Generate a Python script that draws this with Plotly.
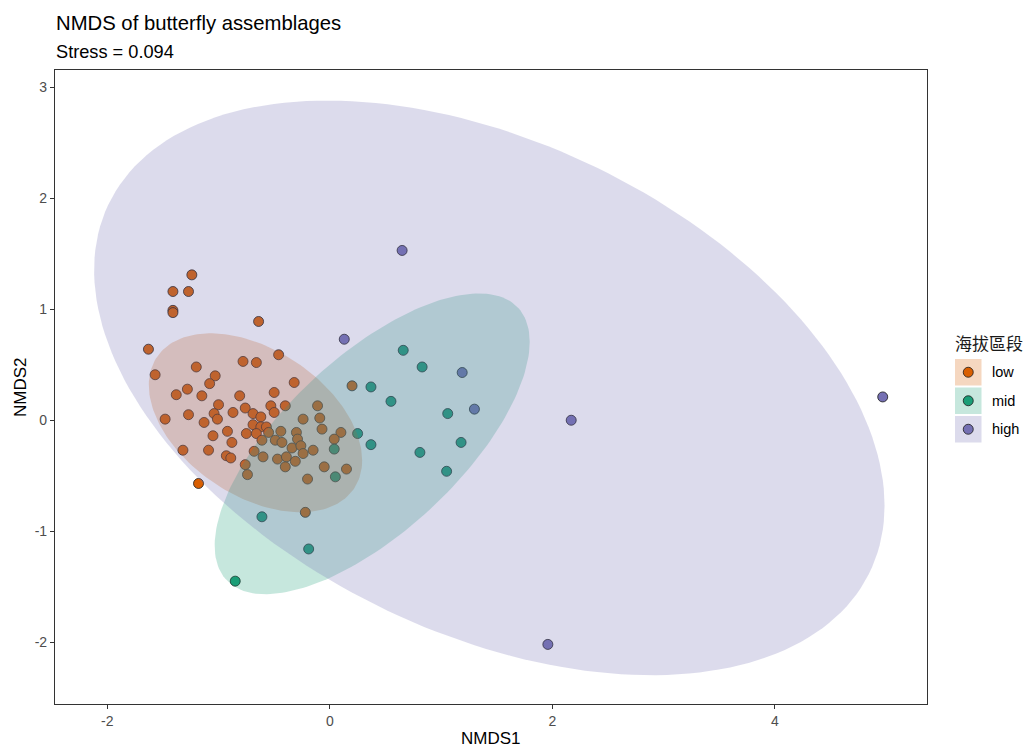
import numpy as np
import plotly.graph_objects as go

# NMDS site scores by elevation band
low_x = [-1.24, -1.41, -1.27, -1.41, -1.41, -0.64, -1.63, -0.46, -1.57, -1.20,
         -0.78, -0.66, -1.03, -1.08, -0.32, -1.28, -1.38, -1.15, -0.81, -0.50,
         0.20, -1.48, -1.27, -1.13, -1.00, -1.04, -1.01, -0.87, -0.76, -0.69,
         -0.62, -0.53, -0.40, -0.50, -0.69, -0.62, -0.57, -1.05, -0.92, -0.75,
         -0.66, -0.88, -1.32, -1.09, -0.93, -0.89, -0.76, -0.74, -1.18, -0.11,
         -0.24, -0.09, -0.07, -0.44, -0.30, -0.29, -0.55, -0.61, -0.49, -0.43,
         -0.34, -0.26, -0.24, -0.15, -0.68, -0.60, -0.47, -0.39, -0.40, -0.31,
         -0.05, 0.10, 0.04, 0.15, -0.20, -0.22]
low_y = [1.31, 1.16, 1.16, 0.99, 0.97, 0.89, 0.64, 0.59, 0.41, 0.48,
         0.53, 0.52, 0.40, 0.33, 0.34, 0.28, 0.23, 0.22, 0.22, 0.25,
         0.31, 0.01, 0.05, -0.02, 0.14, 0.06, 0.01, 0.07, 0.11, 0.06,
         0.03, 0.13, 0.13, 0.07, -0.04, -0.06, -0.06, -0.14, -0.10, -0.12,
         -0.12, -0.20, -0.27, -0.27, -0.32, -0.34, -0.40, -0.49, -0.57, 0.13,
         0.01, 0.02, -0.08, -0.10, -0.11, -0.17, -0.11, -0.18, -0.18, -0.20,
         -0.25, -0.23, -0.30, -0.27, -0.28, -0.33, -0.35, -0.33, -0.42, -0.37,
         -0.42, -0.11, -0.17, -0.44, -0.53, -0.83]

mid_x = [0.66, 0.83, 0.37, 0.55, 1.06, 1.18, 0.37, 0.81, 1.05, 0.25,
         0.04, 0.05, -0.61, -0.19, -0.85]
mid_y = [0.63, 0.48, 0.30, 0.17, 0.06, -0.20, -0.22, -0.29, -0.46, -0.12,
         -0.26, -0.51, -0.87, -1.16, -1.45]

high_x = [0.65, 0.13, 1.19, 1.30, 2.17, 4.97, 1.96]
high_y = [1.53, 0.73, 0.43, 0.10, 0.00, 0.21, -2.02]

groups = ["low", "mid", "high"]
group_colors = ["#D95F02", "#1B9E77", "#7570B3"]

# 95% ellipse of each group: centre and covariance (shape) matrix
ellipse_cx = [-0.668, 0.381, 1.434]
ellipse_cy = [-0.023, -0.2125, 0.292]
ellipse_var_x = [0.9193, 2.0045, 12.62]
ellipse_var_y = [0.6497, 1.8370, 6.703]
ellipse_cov_xy = [-0.3250, 1.2995, -3.770]

stress = 0.094

x_ticks = [-2, 0, 2, 4]
y_ticks = [-2, -1, 0, 1, 2, 3]

points = {"low": (low_x, low_y), "mid": (mid_x, mid_y), "high": (high_x, high_y)}

FONT = "Liberation Sans, Arial, sans-serif"
CJK = "Noto Sans CJK TC, Noto Sans CJK SC, sans-serif"


def rgba(hex_color, a):
    h = hex_color.lstrip("#")
    r, g, b = int(h[0:2], 16), int(h[2:4], 16), int(h[4:6], 16)
    return f"rgba({r},{g},{b},{a})"


def ellipse_path(cx, cy, vx, vy, cxy, n=200):
    cov = np.array([[vx, cxy], [cxy, vy]])
    L = np.linalg.cholesky(cov)
    t = np.linspace(0, 2 * np.pi, n)
    circle = np.vstack([np.cos(t), np.sin(t)])
    pts = L @ circle
    return pts[0] + cx, pts[1] + cy


fig = go.Figure()

# points first, ellipses drawn over them
for g, col in zip(groups, group_colors):
    xs, ys = points[g]
    fig.add_trace(go.Scatter(
        x=xs, y=ys, mode="markers", name=g, showlegend=False,
        marker=dict(size=10, color=col, line=dict(color="#1a1a1a", width=0.8)),
    ))

for i, (g, col) in enumerate(zip(groups, group_colors)):
    ex, ey = ellipse_path(ellipse_cx[i], ellipse_cy[i], ellipse_var_x[i],
                          ellipse_var_y[i], ellipse_cov_xy[i])
    fig.add_trace(go.Scatter(
        x=ex, y=ey, mode="lines", fill="toself", fillcolor=rgba(col, 0.25),
        line=dict(width=0, color=rgba(col, 0)), hoverinfo="skip", showlegend=False,
    ))

# plot area in pixels
L_PX, R_PX, T_PX, B_PX = 55, 927, 70, 704
W, H = 1025, 749


def px_x(p):
    return (p - L_PX) / (R_PX - L_PX)


def px_y(p):
    return (B_PX - p) / (B_PX - T_PX)


shapes = []
annotations = []

# legend: key boxes with the ellipse fill and a point
key_left, key_size = 955, 26.5
key_tops = [359, 387.5, 416]
for g, col, top in zip(groups, group_colors, key_tops):
    shapes.append(dict(
        type="rect", xref="paper", yref="paper",
        x0=px_x(key_left), x1=px_x(key_left + key_size),
        y0=px_y(top + key_size), y1=px_y(top),
        fillcolor=rgba(col, 0.25), line=dict(width=0), layer="above",
    ))
    shapes.append(dict(
        type="circle", xref="paper", yref="paper",
        xsizemode="pixel", ysizemode="pixel",
        xanchor=px_x(key_left + key_size / 2), yanchor=px_y(top + key_size / 2),
        x0=-5, x1=5, y0=-5, y1=5,
        fillcolor=col, line=dict(color="#1a1a1a", width=0.8), layer="above",
    ))
    annotations.append(dict(
        text=g, xref="paper", yref="paper", x=px_x(990.5), y=px_y(top + key_size / 2),
        xanchor="left", yanchor="middle", showarrow=False,
        font=dict(family=FONT, size=14.5, color="#000000"),
    ))

annotations.append(dict(
    text="海拔區段", xref="paper", yref="paper", x=px_x(953), y=px_y(342),
    xanchor="left", yanchor="middle", showarrow=False,
    font=dict(family=CJK, size=17, color="#1a1a1a"),
))

# titles
annotations.append(dict(
    text="NMDS of butterfly assemblages", xref="paper", yref="paper",
    x=px_x(54), y=px_y(23), xanchor="left", yanchor="middle", showarrow=False,
    font=dict(family=FONT, size=20.3, color="#000000"),
))
annotations.append(dict(
    text=f"Stress = {stress:.3f}", xref="paper", yref="paper",
    x=px_x(54), y=px_y(52.5), xanchor="left", yanchor="middle", showarrow=False,
    font=dict(family=FONT, size=18.2, color="#000000"),
))
annotations.append(dict(
    text="NMDS1", xref="paper", yref="paper", borderpad=0,
    x=px_x((L_PX + R_PX) / 2), y=px_y(738.5), xanchor="center", yanchor="middle",
    showarrow=False, font=dict(family=FONT, size=17, color="#000000"),
))
annotations.append(dict(
    text="NMDS2", xref="paper", yref="paper", textangle=-90,
    x=px_x(20), y=px_y((T_PX + B_PX) / 2), xanchor="center", yanchor="middle",
    showarrow=False, font=dict(family=FONT, size=17, color="#000000"),
))

axis_common = dict(
    showgrid=False, zeroline=False, showline=True, mirror=True,
    linecolor="#333333", linewidth=1.1, ticks="outside", ticklen=4,
    tickcolor="#333333", tickwidth=1.1,
    tickfont=dict(family=FONT, size=14, color="#4D4D4D"),
)

fig.update_layout(
    width=W, height=H,
    margin=dict(l=L_PX, r=W - R_PX, t=T_PX, b=H - B_PX, autoexpand=False),
    paper_bgcolor="white", plot_bgcolor="white",
    showlegend=False,
    xaxis=dict(range=[-2.47, 5.368], tickvals=x_ticks,
               ticktext=[str(v) for v in x_ticks], **axis_common),
    yaxis=dict(range=[-2.557, 3.156], tickvals=y_ticks,
               ticktext=[str(v) for v in y_ticks], **axis_common),
    shapes=shapes,
    annotations=annotations,
)

fig.write_html("out.html")
